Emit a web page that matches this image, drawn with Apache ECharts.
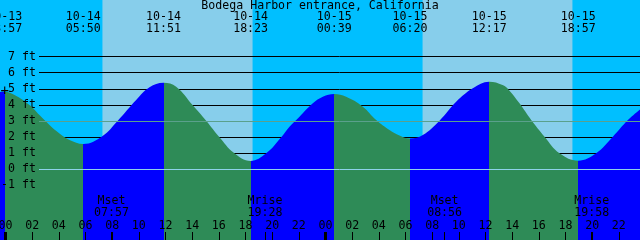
<!DOCTYPE html>
<html>
<head>
<meta charset="utf-8">
<script src="https://cdn.jsdelivr.net/npm/echarts@6.0.0/dist/echarts.min.js"></script>
<style>
html, body { margin: 0; padding: 0; background: #00bfff; }
#chart { width: 640px; height: 240px; }
</style>
</head>
<body>
<div id="chart"></div>
<script>
// hours since 10-14 00:00, water level in feet
const waterHours = [-0.45, -0.05, 0.68, 1.8, 2.55, 3.3, 4.05, 4.8, 5.83, 7.28, 8.42, 9.8, 10.8, 11.85,
  12.8, 14.03, 15.05, 16.05, 17.1, 18.38, 19.55, 20.68, 21.3, 22.05, 23.05, 23.8, 24.65,
  25.55, 26.8, 27.8, 28.8, 29.55, 30.33, 31.3, 32.55, 33.8, 35.05, 36.28,
  37.28, 37.8, 38.55, 39.43, 40.43, 41.55, 42.95, 44.3, 45.55, 46.68, 47.6];
const waterFeet = [4.80, 4.82, 4.61, 3.99, 3.36, 2.74, 2.21, 1.81, 1.56, 2.06, 3.01, 4.30, 5.09, 5.38,
  5.13, 3.99, 3.01, 1.98, 1.03, 0.50, 0.98, 1.98, 2.64, 3.26, 4.09, 4.50, 4.67,
  4.50, 3.88, 3.05, 2.43, 2.09, 1.90, 2.12, 3.01, 4.19, 5.03, 5.44,
  5.23, 4.88, 4.09, 3.05, 2.01, 0.98, 0.52, 0.98, 2.01, 3.05, 3.72];

// high / low tides (first is a high)
const tideTimes = [-0.05, 5.833, 11.85, 18.383, 24.65, 30.333, 36.283, 42.95];
const tideLabels = ['10-13\n23:57', '10-14\n05:50', '10-14\n11:51', '10-14\n18:23',
  '10-15\n00:39', '10-15\n06:20', '10-15\n12:17', '10-15\n18:57'];

const sunrise = [7.27, 31.28];
const sunset = [18.53, 42.52];

const moonTimes = [7.95, 19.467, 32.933, 43.967];
const moonLabels = ['Mset\n07:57', 'Mrise\n19:28', 'Mset\n08:56', 'Mrise\n19:58'];

const hourTicks = [0, 2, 4, 6, 8, 10, 12, 14, 16, 18, 20, 22, 24, 26, 28, 30, 32, 34, 36, 38, 40, 42, 44, 46];
const midnights = [0, 24];
const footTicks = [-1, 0, 1, 2, 3, 4, 5, 6, 7];
const mslFeet = 3;
const datumFeet = 0;

const NIGHT = '#00bfff', DAY = '#87ceeb', FLOOD = '#0000ff', EBB = '#2e8b57';
const FONT = 'DejaVu Sans Mono';
const xMin = -0.4125, xMax = 47.5875, yMin = -4.424, yMax = 10.53;
const txt = { fontFamily: FONT, fontSize: 11.6, color: '#000' };
const noLine = { show: false, onZero: false };

const pieces = [{ lt: tideTimes[0], color: FLOOD }];
tideTimes.forEach((t, i) => {
  const p = { gte: t, color: i % 2 === 0 ? EBB : FLOOD };
  if (i < tideTimes.length - 1) p.lt = tideTimes[i + 1];
  pieces.push(p);
});

const pad = v => String(((v % 24) + 24) % 24).padStart(2, '0');

const grid = { left: 0, right: 0, top: 0, bottom: 0, outerBoundsMode: 'none', containLabel: false };

const chart = echarts.init(document.getElementById('chart'));
chart.setOption({
  backgroundColor: NIGHT,
  animation: false,
  title: {
    text: 'Bodega Harbor entrance, California',
    left: 'center', top: 0, padding: 0, z: 10,
    textStyle: Object.assign({}, txt, { fontWeight: 'normal', lineHeight: 12 })
  },
  grid: [
    Object.assign({}, grid),
    Object.assign({}, grid, { left: 39 }),
    Object.assign({}, grid),
    Object.assign({}, grid)
  ],
  xAxis: [
    {
      gridIndex: 0, type: 'value', min: xMin, max: xMax, position: 'bottom', z: 6,
      axisLine: noLine, splitLine: { show: false },
      axisTick: { show: true, inside: true, length: 8, customValues: hourTicks.concat(moonTimes),
        lineStyle: { color: '#000', width: 1 } },
      axisLabel: Object.assign({ inside: true, margin: 8, customValues: hourTicks, formatter: pad }, txt)
    },
    {
      gridIndex: 0, type: 'value', min: xMin, max: xMax, position: 'top', z: 6,
      axisLine: noLine, splitLine: { show: false }, axisTick: { show: false },
      axisLabel: Object.assign({ inside: true, margin: 11, lineHeight: 12, customValues: tideTimes,
        formatter: v => tideLabels[tideTimes.indexOf(v)] }, txt)
    },
    { gridIndex: 1, type: 'value', min: xMin, max: xMax, show: false, axisLine: noLine },
    {
      gridIndex: 2, type: 'value', min: xMin, max: xMax, position: 'bottom', z: 6,
      axisLine: noLine, splitLine: { show: false }, axisTick: { show: false },
      axisLabel: Object.assign({ inside: true, margin: 21, lineHeight: 12, customValues: moonTimes,
        formatter: v => moonLabels[moonTimes.indexOf(v)] }, txt)
    },
    {
      gridIndex: 3, type: 'value', min: xMin, max: xMax, position: 'bottom', z: 6,
      axisLine: noLine, splitLine: { show: false }, axisLabel: { show: false },
      axisTick: { show: true, inside: true, length: 8, customValues: midnights,
        lineStyle: { color: '#000', width: 3 } }
    }
  ],
  yAxis: [
    {
      gridIndex: 0, type: 'value', min: yMin, max: yMax, z: 6, position: 'left',
      axisLine: noLine, splitLine: { show: false },
      axisTick: { show: false, customValues: footTicks },
      axisLabel: Object.assign({ inside: true, margin: 36, align: 'right', customValues: footTicks,
        formatter: '{value} ft' }, txt)
    },
    {
      gridIndex: 1, type: 'value', min: yMin, max: yMax, z: 2, position: 'left',
      axisLine: noLine, axisLabel: { show: false },
      axisTick: { show: false, customValues: footTicks },
      splitLine: { show: true, lineStyle: { color: '#000', width: 1 } }
    },
    { gridIndex: 2, type: 'value', min: yMin, max: yMax, show: false, axisLine: noLine },
    { gridIndex: 3, type: 'value', min: yMin, max: yMax, show: false, axisLine: noLine }
  ],
  visualMap: {
    type: 'piecewise', show: false, dimension: 0, seriesIndex: 1, pieces: pieces
  },
  series: [
    {
      type: 'custom', xAxisIndex: 0, yAxisIndex: 0, z: 1, silent: true,
      data: sunrise.map((s, i) => [s, sunset[i]]),
      renderItem: (params, api) => {
        const a = api.coord([api.value(0), yMax]);
        const b = api.coord([api.value(1), yMin]);
        return { type: 'rect', shape: { x: a[0], y: a[1], width: b[0] - a[0], height: b[1] - a[1] },
          style: { fill: DAY } };
      }
    },
    {
      type: 'line', xAxisIndex: 0, yAxisIndex: 0, z: 3, silent: true,
      data: waterHours.map((h, i) => [h, waterFeet[i]]),
      smooth: 0.4, showSymbol: false, symbol: 'none',
      lineStyle: { width: 0 },
      areaStyle: { opacity: 1, origin: 'start' },
      // small cross on the first high water
      markPoint: {
        silent: true, symbol: 'circle', symbolSize: 0,
        label: { show: true, position: 'inside', formatter: '+', fontFamily: FONT, fontSize: 14, color: '#000' },
        data: [{ coord: [waterHours[1], waterFeet[1]] }]
      }
    },
    {
      type: 'line', xAxisIndex: 2, yAxisIndex: 1, z: 4, silent: true, data: [],
      markLine: {
        silent: true, symbol: ['none', 'none'], label: { show: false },
        lineStyle: { type: 'solid', width: 1 },
        data: [
          { yAxis: mslFeet, lineStyle: { color: '#5aa08c' } },
          { yAxis: datumFeet, lineStyle: { color: '#8ed2ea' } }
        ]
      }
    }
  ]
});
</script>
</body>
</html>
